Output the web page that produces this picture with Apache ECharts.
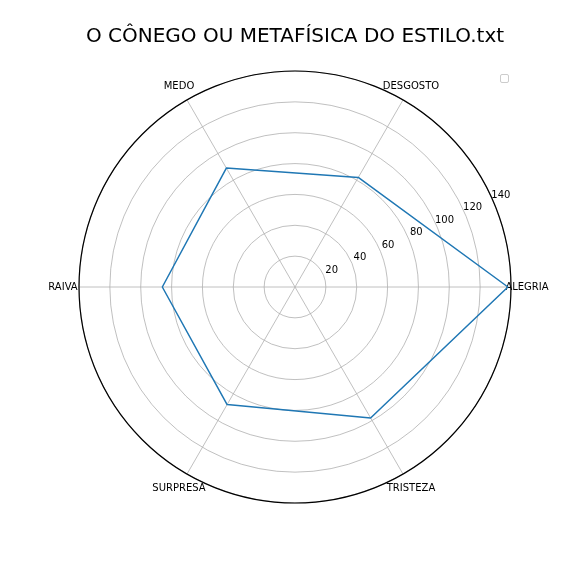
<!DOCTYPE html>
<html>
<head>
<meta charset="utf-8">
<script src="https://cdn.jsdelivr.net/npm/echarts@6/dist/echarts.min.js"></script>
<style>html,body{margin:0;padding:0;background:#fff}#c{width:576px;height:576px}</style>
</head>
<body>
<div id="c"></div>
<script>
const title = 'O CÔNEGO OU METAFÍSICA DO ESTILO.txt';
const categories = ['ALEGRIA', 'DESGOSTO', 'MEDO', 'RAIVA', 'SURPRESA', 'TRISTEZA'];
const values = [138, 82, 89, 86, 88, 98];
const radialTicks = [20, 40, 60, 80, 100, 120, 140];

const step = 360 / categories.length;
const lineData = values.map((v, i) => [v, i * step]);
lineData.push([values[0], 360]);
// category labels placed on an outer ring (value 1 on a 0..1 radius axis)
const labelData = categories.map((c, i) => ({name: c, value: [1, i * step]}));

const font = 'DejaVu Sans';
const hiddenAngle = (idx, start) => ({
  polarIndex: idx, type: 'value', min: 0, max: 360, startAngle: start, clockwise: false,
  axisLine: {show: false}, axisTick: {show: false}, splitLine: {show: false}, axisLabel: {show: false}
});
const chart = echarts.init(document.getElementById('c'), null, {renderer: 'canvas'});
chart.setOption({
  animation: false,
  backgroundColor: '#fff',
  title: {
    text: title, left: 290, textAlign: 'center', top: 22,
    textStyle: {fontFamily: font, fontSize: 20, fontWeight: 'normal', color: '#000'}
  },
  polar: [
    {center: [295, 287], radius: 216},
    {center: [303.5, 283], radius: 216},
    {center: [295, 287], radius: 232}
  ],
  angleAxis: [
    {
      polarIndex: 0, type: 'value', min: 0, max: 360, interval: step,
      startAngle: 0, clockwise: false,
      axisLine: {show: true, lineStyle: {color: '#000', width: 1.2}},
      axisTick: {show: false},
      splitLine: {show: true, lineStyle: {color: '#b0b0b0', width: 0.8}},
      axisLabel: {show: false}
    },
    hiddenAngle(1, 24),
    hiddenAngle(2, 0)
  ],
  radiusAxis: [
    {
      polarIndex: 0, type: 'value', min: 0, max: 140, interval: 20,
      axisLine: {show: false}, axisTick: {show: false}, axisLabel: {show: false},
      splitLine: {show: true, lineStyle: {color: '#b0b0b0', width: 0.8}}
    },
    {
      polarIndex: 1, type: 'value', min: 0, max: 140, interval: 20,
      axisLine: {show: false}, axisTick: {show: false}, splitLine: {show: false},
      axisLabel: {
        show: true, margin: 0, align: 'center', verticalAlign: 'middle',
        fontFamily: font, fontSize: 10, color: '#000',
        formatter: v => (radialTicks.indexOf(v) >= 0 ? String(v) : '')
      }
    },
    {
      polarIndex: 2, type: 'value', min: 0, max: 1,
      axisLine: {show: false}, axisTick: {show: false}, splitLine: {show: false}, axisLabel: {show: false}
    }
  ],
  series: [
    {
      type: 'line', coordinateSystem: 'polar', polarIndex: 0,
      data: lineData, showSymbol: false, symbol: 'none',
      lineStyle: {color: '#1f77b4', width: 1.5}
    },
    {
      type: 'scatter', coordinateSystem: 'polar', polarIndex: 2,
      data: labelData, symbolSize: 0, silent: true,
      itemStyle: {opacity: 1},
      label: {
        show: true, position: 'inside', formatter: p => p.name,
        fontFamily: font, fontSize: 10, color: '#000', opacity: 1,
        textBorderWidth: 0, textBorderColor: 'transparent'
      }
    }
  ],
  graphic: [{
    type: 'rect', left: 500, top: 74,
    shape: {width: 8, height: 8, r: 1.5},
    style: {fill: '#fff', stroke: '#cccccc', lineWidth: 1}
  }]
});
</script>
</body>
</html>
